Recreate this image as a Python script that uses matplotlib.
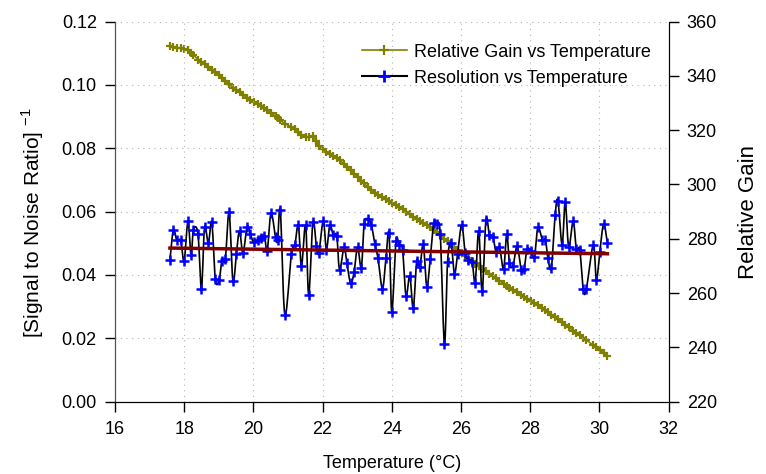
import numpy as np
import matplotlib
matplotlib.use("Agg")
import matplotlib.pyplot as plt
from matplotlib.lines import Line2D

plt.rcParams["font.family"] = ["Liberation Sans", "DejaVu Sans"]
plt.rcParams["mathtext.fontset"] = "custom"
plt.rcParams["mathtext.rm"] = "Liberation Sans"

# temperature (deg C) of each reading
temperature = [
    17.59, 17.69, 17.79, 17.90, 18.00, 18.11, 18.20, 18.27, 18.40, 18.50,
    18.59, 18.70, 18.80, 18.90, 19.01, 19.09, 19.19, 19.30, 19.41, 19.51,
    19.60, 19.70, 19.82, 19.91, 20.01, 20.12, 20.22, 20.32, 20.40, 20.51,
    20.64, 20.70, 20.78, 20.91, 21.10, 21.20, 21.30, 21.39, 21.51, 21.60,
    21.72, 21.82, 21.89, 22.02, 22.11, 22.21, 22.31, 22.41, 22.49, 22.62,
    22.70, 22.81, 22.91, 23.01, 23.12, 23.20, 23.31, 23.41, 23.51, 23.60,
    23.73, 23.83, 23.92, 24.00, 24.12, 24.21, 24.31, 24.41, 24.52, 24.62,
    24.72, 24.81, 24.91, 25.01, 25.11, 25.21, 25.30, 25.40, 25.52, 25.61,
    25.71, 25.81, 25.90, 26.02, 26.12, 26.21, 26.32, 26.41, 26.51, 26.61,
    26.72, 26.82, 26.92, 27.01, 27.11, 27.23, 27.32, 27.40, 27.50, 27.62,
    27.74, 27.82, 27.91, 28.01, 28.12, 28.22, 28.35, 28.44, 28.51, 28.61,
    28.72, 28.80, 28.92, 29.01, 29.11, 29.24, 29.33, 29.43, 29.53, 29.62,
    29.82, 29.91, 30.01, 30.12, 30.23,
]

# inverse SNR (resolution)
resolution = [
    0.0448, 0.0543, 0.0509, 0.0509, 0.0445, 0.0569, 0.0464, 0.0543, 0.0530, 0.0356,
    0.0551, 0.0500, 0.0567, 0.0387, 0.0383, 0.0445, 0.0450, 0.0598, 0.0380, 0.0467,
    0.0540, 0.0469, 0.0553, 0.0530, 0.0503, 0.0509, 0.0518, 0.0524, 0.0476, 0.0595,
    0.0520, 0.0509, 0.0604, 0.0274, 0.0467, 0.0495, 0.0558, 0.0427, 0.0558, 0.0337,
    0.0567, 0.0492, 0.0469, 0.0571, 0.0480, 0.0558, 0.0525, 0.0524, 0.0416, 0.0488,
    0.0439, 0.0374, 0.0409, 0.0488, 0.0423, 0.0561, 0.0576, 0.0558, 0.0498, 0.0453,
    0.0356, 0.0453, 0.0532, 0.0284, 0.0506, 0.0495, 0.0480, 0.0334, 0.0398, 0.0295,
    0.0445, 0.0425, 0.0497, 0.0363, 0.0450, 0.0564, 0.0561, 0.0529, 0.0181, 0.0442,
    0.0500, 0.0404, 0.0467, 0.0558, 0.0469, 0.0448, 0.0442, 0.0376, 0.0540, 0.0348,
    0.0574, 0.0527, 0.0521, 0.0474, 0.0488, 0.0419, 0.0529, 0.0437, 0.0429, 0.0490,
    0.0416, 0.0418, 0.0482, 0.0476, 0.0458, 0.0550, 0.0511, 0.0511, 0.0453, 0.0423,
    0.0590, 0.0635, 0.0495, 0.0632, 0.0488, 0.0571, 0.0482, 0.0480, 0.0355, 0.0355,
    0.0495, 0.0385, 0.0474, 0.0561, 0.0500,
]

# relative gain
gain = [
    350.9, 350.6, 350.4, 350.2, 349.9, 349.6, 348.6, 347.7, 346.0, 345.0,
    344.2, 343.2, 342.3, 341.4, 340.3, 339.4, 338.2, 337.0, 335.7, 334.8,
    334.0, 333.1, 332.0, 331.2, 330.4, 329.6, 328.9, 328.1, 327.5, 326.4,
    325.1, 324.5, 323.6, 322.4, 321.2, 320.4, 319.3, 318.3, 317.5, 317.6,
    317.8, 316.0, 314.0, 312.9, 312.1, 311.3, 310.5, 309.8, 309.0, 307.5,
    306.4, 305.2, 304.0, 302.8, 301.4, 300.4, 299.0, 297.8, 297.0, 296.3,
    295.3, 294.6, 294.0, 293.3, 292.3, 291.6, 290.8, 290.0, 289.0, 288.2,
    287.4, 286.7, 285.9, 285.1, 284.3, 283.4, 282.5, 281.4, 280.1, 279.1,
    278.0, 276.9, 275.9, 274.7, 273.7, 272.8, 271.7, 270.8, 269.9, 269.0,
    268.1, 267.2, 266.3, 265.5, 264.6, 263.5, 262.7, 262.0, 261.2, 260.3,
    259.3, 258.7, 258.0, 257.2, 256.4, 255.6, 254.6, 253.8, 253.1, 252.1,
    251.1, 250.4, 249.2, 248.4, 247.5, 246.2, 245.4, 244.5, 243.5, 242.7,
    240.8, 240.0, 239.1, 238.0, 237.0,
]

# linear trend of the resolution
trend_x = [17.59, 30.23]
trend_y = [0.0485, 0.0467]


def smooth(x, y, n=10):
    # Catmull-Rom curve through the points
    x = np.asarray(x, float)
    y = np.asarray(y, float)
    px = np.concatenate([[2 * x[0] - x[1]], x, [2 * x[-1] - x[-2]]])
    py = np.concatenate([[2 * y[0] - y[1]], y, [2 * y[-1] - y[-2]]])
    t = np.linspace(0, 1, n, endpoint=False)[:, None]
    curves = []
    for p in (px, py):
        p0, p1, p2, p3 = p[:-3], p[1:-2], p[2:-1], p[3:]
        seg = 0.5 * ((2 * p1) + (-p0 + p2) * t + (2 * p0 - 5 * p1 + 4 * p2 - p3) * t ** 2
                     + (-p0 + 3 * p1 - 3 * p2 + p3) * t ** 3)
        curves.append(np.concatenate([seg.T.ravel(), [p[-2]]]))
    return curves[0], curves[1]


fig = plt.figure(figsize=(7.66, 4.74), dpi=100)
ax = fig.add_axes([0.150, 0.1525, 0.723, 0.802])
ax2 = ax.twinx()

olive = "#808000"
ax2.plot(temperature, gain, color=olive, lw=1.2, marker="+", ms=6, mew=1.6, zorder=2)

sx, sy = smooth(temperature, resolution)
ax.plot(sx, sy, color="black", lw=1.2, zorder=3)
ax.plot(temperature, resolution, ls="none", marker="+", ms=7, mew=1.8, color="#0000ff", zorder=4)
ax.plot(trend_x, trend_y, color="#800000", lw=2.5, zorder=5)

# keep the left axis artists above the twin
ax.set_zorder(ax2.get_zorder() + 1)
ax.patch.set_visible(False)

ax.set_xlim(16, 32)
ax.set_ylim(0, 0.12)
ax2.set_ylim(220, 360)
ax.set_xticks(np.arange(16, 33, 2))
ax.set_yticks(np.arange(0, 0.121, 0.02))
ax.set_yticklabels([f"{v:.2f}" for v in np.arange(0, 0.121, 0.02)])
ax2.set_yticks(np.arange(220, 361, 20))

for a in (ax, ax2):
    a.spines["top"].set_visible(False)
    a.tick_params(direction="out", length=7, width=1, labelsize=13, pad=6)
ax.tick_params(axis="x", pad=7)
ax.spines["left"].set_color("#555555")

ax.grid(True, color="#b4b4b4", ls=(0, (1, 4)), lw=0.8)

ax.set_xlabel("Temperature (°C)", fontsize=13, labelpad=12)
ax.set_ylabel(r"[Signal to Noise Ratio] $^{-1}$", fontsize=15)
ax.yaxis.set_label_coords(-0.125, 0.47)
ax2.set_ylabel("Relative Gain", fontsize=16, labelpad=15)

handles = [
    Line2D([], [], color=olive, lw=1.2, marker="+", ms=7, mew=1.6),
    Line2D([], [], color="black", lw=1.5, marker="+", ms=8, mew=2, mec="#0000ff"),
]
ax.legend(handles, ["Relative Gain vs Temperature", "Resolution vs Temperature"],
          loc="upper left", bbox_to_anchor=(0.416, 0.985), frameon=False,
          fontsize=13, handlelength=2.5, handletextpad=0.4, labelspacing=0.5)

fig.savefig("out.png", dpi=100)
